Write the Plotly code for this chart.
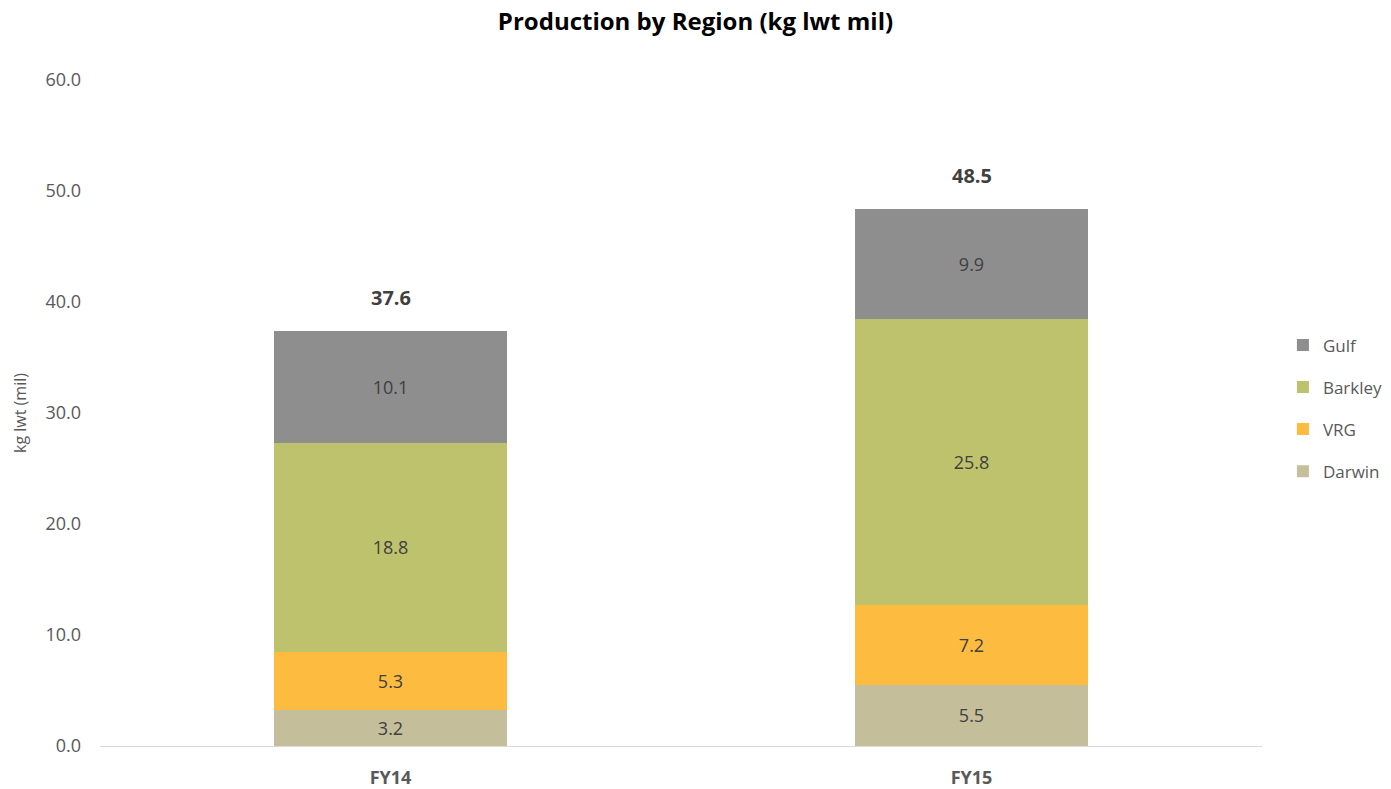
import plotly.graph_objects as go

categories = ["FY14", "FY15"]
darwin = [3.2, 5.5]
vrg = [5.3, 7.2]
barkley = [18.8, 25.8]
gulf = [10.1, 9.9]
totals = [37.6, 48.5]
y_ticks = [0, 10, 20, 30, 40, 50, 60]

series = [
    ("Darwin", darwin, "#C5BE9A", 4),
    ("VRG", vrg, "#FDBB3F", 3),
    ("Barkley", barkley, "#BFC26D", 2),
    ("Gulf", gulf, "#8E8E8E", 1),
]

fig = go.Figure()
for name, vals, color, rank in series:
    fig.add_trace(go.Bar(
        x=categories, y=vals, name=name,
        marker=dict(color=color, line=dict(width=0)),
        text=[f"{v:.1f}" for v in vals],
        textposition="inside", insidetextanchor="middle",
        textfont=dict(family="Open Sans", size=18, color="#404040"),
        legendgroup=name, legendrank=rank,
    ))

stack_tops = [d + v + b + g for d, v, b, g in zip(darwin, vrg, barkley, gulf)]
for cat, top, tot in zip(categories, stack_tops, totals):
    fig.add_annotation(x=cat, y=top, text=f"<b>{tot:.1f}</b>", showarrow=False,
                       yanchor="bottom", yshift=18,
                       font=dict(family="Open Sans", size=20, color="#404040"))

fig.update_layout(
    barmode="stack", bargap=0.6,
    width=1391, height=789,
    margin=dict(l=100, r=129, t=80, b=43, autoexpand=False),
    paper_bgcolor="white", plot_bgcolor="white",
    title=dict(text="<b>Production by Region (kg lwt mil)</b>", x=0.5, xanchor="center",
               y=0.972, yanchor="middle",
               font=dict(family="Open Sans", size=24, color="#000000")),
    legend=dict(x=1.018, xanchor="left", y=0.507, yanchor="middle",
                traceorder="grouped", tracegroupgap=17,
                font=dict(family="Open Sans", size=17, color="#595959"),
                itemwidth=30),
    uniformtext=dict(mode="show", minsize=10),
)
fig.update_xaxes(showgrid=False, showline=True, linecolor="#D9D9D9", linewidth=1,
                 tickfont=dict(family="Open Sans", size=18, color="#595959"),
                 ticks="", ticklabelstandoff=15)
fig.update_xaxes(tickvals=categories, ticktext=[f"<b>{c}</b>" for c in categories])
fig.update_yaxes(range=[0, 60], tickvals=y_ticks, ticktext=[f"{t:.1f}" for t in y_ticks],
                 showgrid=False, zeroline=False, showline=False,
                 tickfont=dict(family="Open Sans", size=18, color="#595959"),
                 ticklabelstandoff=18,
                 title=dict(text="kg lwt (mil)", standoff=14,
                            font=dict(family="Open Sans", size=16, color="#595959")))

fig.write_html("out.html")
